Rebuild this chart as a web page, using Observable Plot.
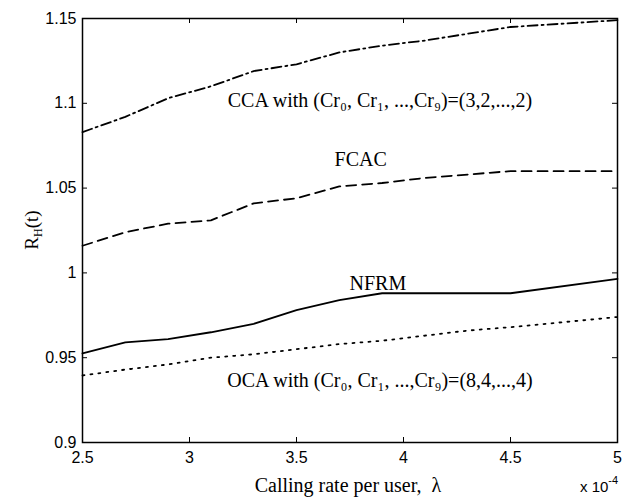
<!DOCTYPE html>
<html><head><meta charset="utf-8">
<script src="https://cdn.jsdelivr.net/npm/d3@7"></script>
<script src="https://cdn.jsdelivr.net/npm/@observablehq/plot@0.6"></script>
<style>body{margin:0;background:#fff}</style>
</head><body><div id="chart"></div>
<script>
const lambda = [2.5, 2.7, 2.9, 3.1, 3.3, 3.5, 3.7, 3.9, 4.1, 4.3, 4.5, 5.0];
const cca  = [1.083, 1.092, 1.103, 1.110, 1.119, 1.123, 1.130, 1.134, 1.137, 1.141, 1.145, 1.149];
const fcac = [1.016, 1.024, 1.029, 1.031, 1.041, 1.044, 1.051, 1.053, 1.056, 1.058, 1.060, 1.060];
const nfrm = [0.9525, 0.959, 0.961, 0.965, 0.970, 0.978, 0.984, 0.988, 0.988, 0.988, 0.988, 0.9965];
const oca  = [0.9395, 0.943, 0.946, 0.950, 0.952, 0.955, 0.958, 0.960, 0.963, 0.966, 0.968, 0.974];
const xTicks = [2.5, 3, 3.5, 4, 4.5, 5];
const yTicks = [0.9, 0.95, 1, 1.05, 1.1, 1.15];
const labels = [
  {text: "CCA with (Cr\u2080, Cr\u2081, ...,Cr\u2089)=(3,2,...,2)", x: 3.89, y: 1.1017},
  {text: "FCAC", x: 3.80, y: 1.067},
  {text: "NFRM", x: 3.88, y: 0.9938},
  {text: "OCA with (Cr\u2080, Cr\u2081, ...,Cr\u2089)=(8,4,...,4)", x: 3.89, y: 0.9366}
];
const series = [
  {name: "CCA", values: cca, dash: "10,4,2,4"},
  {name: "FCAC", values: fcac, dash: "10,6"},
  {name: "NFRM", values: nfrm, dash: null},
  {name: "OCA", values: oca, dash: "2,6"}
];
const W = 627, H = 500, mL = 82, mR = 10, mT = 18, mB = 58;
const innerW = W - mL - mR, innerH = H - mT - mB;
const serif = "'Liberation Serif', 'Times New Roman', serif";
const sans = "'Liberation Sans', Arial, sans-serif";

const lineMarks = series.map(s => Plot.line(lambda.map((x, i) => ({x, y: s.values[i]})), {
  x: "x", y: "y", stroke: "black", strokeWidth: 1.8, strokeDasharray: s.dash
}));

const chart = Plot.plot({
  width: W, height: H,
  marginLeft: mL, marginRight: mR, marginTop: mT, marginBottom: mB,
  style: {fontFamily: sans, background: "white", color: "black"},
  x: {domain: [2.5, 5]},
  y: {domain: [0.9, 1.15]},
  marks: [
    ...lineMarks,
    Plot.tickX(xTicks, {x: d => d, insetTop: innerH - 5, stroke: "black", strokeWidth: 1}),
    Plot.tickX(xTicks, {x: d => d, insetBottom: innerH - 5, stroke: "black", strokeWidth: 1}),
    Plot.tickY(yTicks, {y: d => d, insetRight: innerW - 5, stroke: "black", strokeWidth: 1}),
    Plot.tickY(yTicks, {y: d => d, insetLeft: innerW - 5, stroke: "black", strokeWidth: 1}),
    Plot.frame({stroke: "black", strokeWidth: 1.5}),
    Plot.axisX(xTicks, {anchor: "bottom", tickSize: 0, tickPadding: 9, fontSize: 16, label: null, tickFormat: d => String(d)}),
    Plot.axisY(yTicks, {anchor: "left", tickSize: 0, tickPadding: 6, fontSize: 16, label: null, tickFormat: d => String(d)}),
    Plot.text(labels, {x: "x", y: "y", text: "text", fontFamily: serif, fontSize: 20, fill: "black"})
  ]
});
document.getElementById("chart").append(chart);

const svg = d3.select(chart);
// y-axis label R_H(t)
const yl = svg.append("text")
  .attr("transform", `translate(38,${mT + innerH / 2}) rotate(-90)`)
  .attr("text-anchor", "middle")
  .attr("font-family", serif).attr("font-size", 19).attr("fill", "black");
yl.append("tspan").text("R");
yl.append("tspan").attr("font-size", 12).attr("dy", 4).text("H");
yl.append("tspan").attr("dy", -4).text("(t)");
// x-axis label
svg.append("text")
  .attr("x", 348).attr("y", 492)
  .attr("text-anchor", "middle")
  .attr("font-family", serif).attr("font-size", 20).attr("fill", "black")
  .attr("xml:space", "preserve").style("white-space", "pre")
  .text("Calling rate per user,  \u03bb");
// x 10^-4
const ex = svg.append("text")
  .attr("x", 580).attr("y", 492)
  .attr("text-anchor", "start")
  .attr("font-family", sans).attr("font-size", 15).attr("fill", "black");
ex.append("tspan").text("x 10");
ex.append("tspan").attr("font-size", 11).attr("dy", -8).text("-4");
</script>
</body></html>
